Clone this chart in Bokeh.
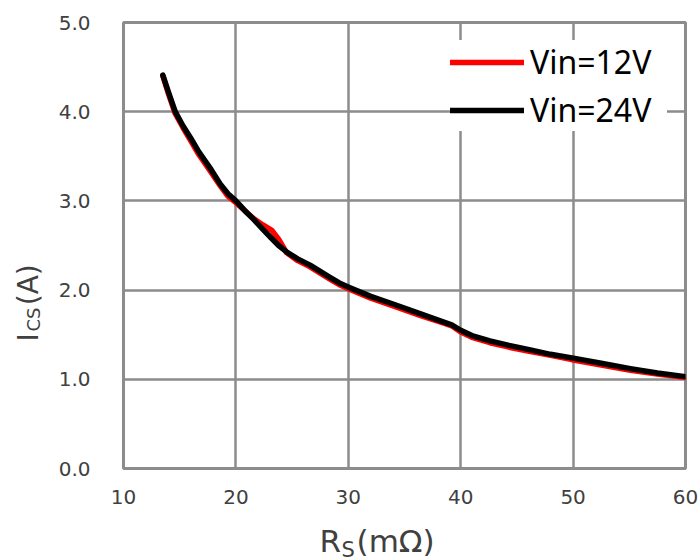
import math
from bokeh.plotting import figure
from bokeh.models import FixedTicker, PrintfTickFormatter, Legend, LegendItem, Label, Range1d
from bokeh.embed import file_html
from bokeh.resources import INLINE

# ---- data ----
rs_12 = [13.5, 14.0, 14.6, 15.3, 16.0, 16.7, 17.8, 18.6, 19.3, 20.0, 20.8, 21.6, 22.4, 23.2,
         23.8, 24.5, 25.5, 26.6, 27.5, 28.4, 29.2, 30.1, 32.0, 34.3, 36.5, 38.5, 39.2, 40.0,
         41.0, 42.6, 44.3, 46.2, 48.0, 49.9, 52.5, 55.1, 57.5, 60.0]
ics_12 = [4.40, 4.20, 3.98, 3.82, 3.67, 3.52, 3.32, 3.17, 3.05, 2.98, 2.89, 2.80, 2.73, 2.67,
          2.57, 2.42, 2.33, 2.26, 2.19, 2.12, 2.06, 2.01, 1.91, 1.81, 1.71, 1.63, 1.60, 1.53,
          1.47, 1.41, 1.36, 1.31, 1.27, 1.22, 1.16, 1.10, 1.06, 1.02]
rs_24 = [13.5, 14.0, 14.6, 15.3, 16.0, 16.7, 17.8, 18.6, 19.3, 20.0, 20.8, 21.6, 22.4, 23.1,
         23.8, 24.6, 25.5, 26.6, 27.5, 28.4, 29.2, 30.1, 32.0, 34.3, 36.5, 38.5, 39.2, 40.0,
         41.0, 42.6, 44.3, 46.2, 48.0, 49.9, 52.5, 55.1, 57.5, 60.0]
ics_24 = [4.41, 4.22, 4.00, 3.84, 3.70, 3.55, 3.35, 3.19, 3.08, 3.00, 2.89, 2.79, 2.68, 2.59,
          2.50, 2.42, 2.35, 2.28, 2.21, 2.14, 2.08, 2.03, 1.93, 1.83, 1.73, 1.64, 1.61, 1.55,
          1.49, 1.43, 1.38, 1.33, 1.28, 1.24, 1.18, 1.12, 1.07, 1.03]
series_names = ["Vin=12V", "Vin=24V"]
x_ticks = [10, 20, 30, 40, 50, 60]
y_ticks = [0, 1, 2, 3, 4, 5]

# ---- layout ----
X0, X1, Y0, Y1 = 10, 60, 0, 5
FW, FH = 562, 446
BL, BT, BR, BB = 123, 22, 15, 92

p = figure(frame_width=FW, frame_height=FH,
           min_border_left=BL, min_border_top=BT, min_border_right=BR, min_border_bottom=BB,
           x_range=Range1d(X0, X1), y_range=Range1d(Y0, Y1),
           output_backend="svg", toolbar_location=None)

GRID = "#8c8c8c"
p.outline_line_color = GRID
p.outline_line_width = 3
p.grid.grid_line_color = GRID
p.grid.grid_line_width = 2.5
p.background_fill_color = "white"
p.border_fill_color = "white"

p.xaxis.ticker = FixedTicker(ticks=x_ticks)
p.yaxis.ticker = FixedTicker(ticks=y_ticks)
p.yaxis.formatter = PrintfTickFormatter(format="%.1f")
for ax in (p.xaxis, p.yaxis):
    ax.axis_line_color = None
    ax.major_tick_line_color = None
    ax.minor_tick_line_color = None
    ax.major_label_text_font = "DejaVu Sans"
    ax.major_label_text_font_size = "20px"
    ax.major_label_text_color = "#404040"
p.xaxis.major_label_standoff = 15
p.yaxis.major_label_standoff = 27

r12 = p.line(rs_12, ics_12, line_color="#ff0000", line_width=5.5, line_join="round", line_cap="round")
r24 = p.line(rs_24, ics_24, line_color="#000000", line_width=5.5, line_join="round", line_cap="round")

legend = Legend(items=[LegendItem(label=series_names[0], renderers=[r12]),
                       LegendItem(label=series_names[1], renderers=[r24])],
                location="top_right", margin=18, padding=11, spacing=5,
                glyph_width=74, glyph_height=42, label_height=42, label_width=137,
                label_standoff=6, label_text_font="Noto Sans", label_text_font_size="32px",
                label_text_color="#000000", background_fill_color="white",
                background_fill_alpha=1.0, border_line_color=None)
p.add_layout(legend)

# ---- axis titles with subscripts (canvas coordinates, placed in side panels) ----
AX_COL = "#404040"
AX_FONT = "DejaVu Sans"


def lab(text, x, y, size, angle=0.0):
    return Label(x=x, y=y, x_units="canvas", y_units="canvas", text=text, angle=angle,
                 text_font=AX_FONT, text_font_size=size, text_color=AX_COL,
                 text_align="left", text_baseline="middle")


# x title: R_S(mΩ)
p.add_layout(lab("R\u2002(mΩ)", 319, 540, "31px"), "below")
p.add_layout(lab("S", 341, 549, "21px"), "right")
# y title: I_CS(A), rotated, reading upwards
p.add_layout(lab("I\u2002\u2002(A)", 28, 341, "28px", math.pi / 2), "left")
p.add_layout(lab("CS", 33, 331, "18px", math.pi / 2), "left")

open("out.html", "w").write(file_html(p, INLINE))
